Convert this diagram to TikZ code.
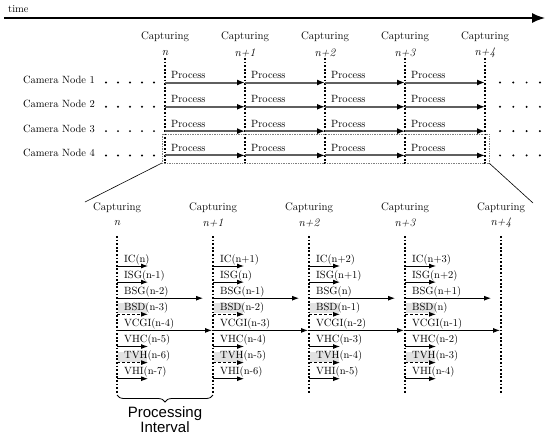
\documentclass[tikz,border=0pt]{standalone}
\usepackage{fontspec}
\newfontfamily\labelsans{Liberation Sans}
\usetikzlibrary{arrows.meta, calc, math, decorations.pathreplacing}
\definecolor{mygray}{RGB}{95,95,95}
\definecolor{myshade}{RGB}{226,226,226}
\newcommand{\capidx}[1]{\ifnum#1>0 n+#1\else\ifnum#1=0 n\else n#1\fi\fi}

\begin{document}
\begin{tikzpicture}[x=1pt, y=-1pt,
  txt/.style={font=\fontsize{10.5}{12}\selectfont, inner sep=0},
  captxt/.style={font=\fontsize{11}{12}\selectfont, inner sep=0},
  capidxtxt/.style={font=\fontsize{11.5}{12}\selectfont\itshape, inner sep=0},
  capline/.style={line width=1.8pt, dash pattern=on 1.8pt off 1.8pt},
  procarrow/.style={line width=2pt, draw=mygray, -{Latex[length=8pt,width=6pt,color=black]}},
  steparrow/.style={line width=0.9pt, -{Latex[length=7pt,width=5pt]}},
  ]
\useasboundingbox (0,0) rectangle (545,434);
\tikzmath{
\xa=165; \dxa=80;
\xb=117; \dxb=96;
\ya=82.5; \dya=24.3;
\yb=266; \dyb=16.1;
}

% time axis
\coordinate (t0) at (4,18);
\coordinate (t1) at (545,18);
\draw[line width=1.5pt, -{Latex[length=13pt,width=10pt]}] (t0) -- (t1);
\node[txt, anchor=base west] (time) at (8,12) {time};

% top: all camera nodes
\foreach \i/\lab in {0/n,1/n+1,2/n+2,3/n+3,4/n+4}{
  \coordinate (T\i) at (\xa+\dxa*\i,58);
  \coordinate (B\i) at (\xa+\dxa*\i,164);
  \node[captxt] (tc\i) at (\xa+\dxa*\i,37) {Capturing};
  \node[capidxtxt] (tn\i) at (\xa+\dxa*\i,53) {\lab};
  \draw[capline] (T\i) -- (B\i);
}
\foreach \r in {1,...,4}{
  \pgfmathsetmacro\y{\ya+\dya*(\r-1)}
  \node[txt, anchor=base east] (cam\r) at (95,\y+1) {Camera Node \r};
  \foreach \d in {0,...,4} \fill (106+12*\d,\y) circle (1.1pt);
  \foreach \d in {0,...,3} \fill (500+13.3*\d,\y) circle (1.1pt);
  \foreach \j [evaluate=\j as \jj using int(\j+1)] in {0,...,3}{
    \draw[procarrow] (T\j |- 0,\y) -- (T\jj |- 0,\y);
    \node[txt, anchor=base west] (pr\r\j) at ($(T\j |- 0,\y)+(6,-4)$) {Process};
  }
}

% zoom onto camera node 4
\coordinate (zl) at (162,134);
\coordinate (zr) at (489,163);
\coordinate (el) at (85,202);
\coordinate (er) at (533,203);
\draw[gray, densely dotted, line width=0.7pt] (zl) rectangle (zr);
\draw[line width=0.6pt] (zl |- zr) -- (el);
\draw[line width=0.6pt] (zr) -- (er);

% bottom: steps of one node
\foreach \i/\lab in {0/n,1/n+1,2/n+2,3/n+3,4/n+4}{
  \coordinate (bT\i) at (\xb+\dxb*\i,236);
  \coordinate (bB\i) at (\xb+\dxb*\i,393);
  \node[captxt] (bc\i) at (\xb+\dxb*\i,208) {Capturing};
  \node[capidxtxt] (bn\i) at (\xb+\dxb*\i,223) {\lab};
}
\foreach \i in {0,...,3}{
  \foreach \nm/\off/\alen/\kind/\bg [count=\r from 0] in
    {IC/0/31/solid/none, ISG/-1/31/solid/none, BSG/-2/86/solid/none,
     BSD/-3/31/densely dashed/myshade, VCGI/-4/95/solid/none, VHC/-5/31/solid/none,
     TVH/-6/31/densely dashed/myshade, VHI/-7/31/solid/none}{
    \pgfmathsetmacro\y{\yb+\dyb*\r}
    \pgfmathtruncatemacro\idx{\off+\i}
    \coordinate (s\i\r) at (bT\i |- 0,\y);
    \coordinate (e\i\r) at ($(s\i\r)+(\alen,0)$);
    \path[fill=\bg] ($(s\i\r)+(1,-11)$) rectangle ($(s\i\r)+(30,-1)$);
    \node[txt, anchor=base west] (l\i\r) at ($(s\i\r)+(7,-4)$) {\nm(\capidx{\idx})};
    \draw[steparrow, \kind] (s\i\r) -- (e\i\r);
  }
}
\foreach \i in {0,...,4} \draw[capline] (bT\i) -- (bB\i);

% processing interval
\draw[decorate, decoration={brace, mirror, amplitude=7pt}, line width=0.8pt]
  ($(bB0)+(0,2)$) -- ($(bB1)+(0,2)$);
\node[font=\labelsans\fontsize{15}{15}\selectfont, align=center, inner sep=0, anchor=north] (proc)
  at (165,406) {Processing\\Interval};
\end{tikzpicture}
\end{document}
